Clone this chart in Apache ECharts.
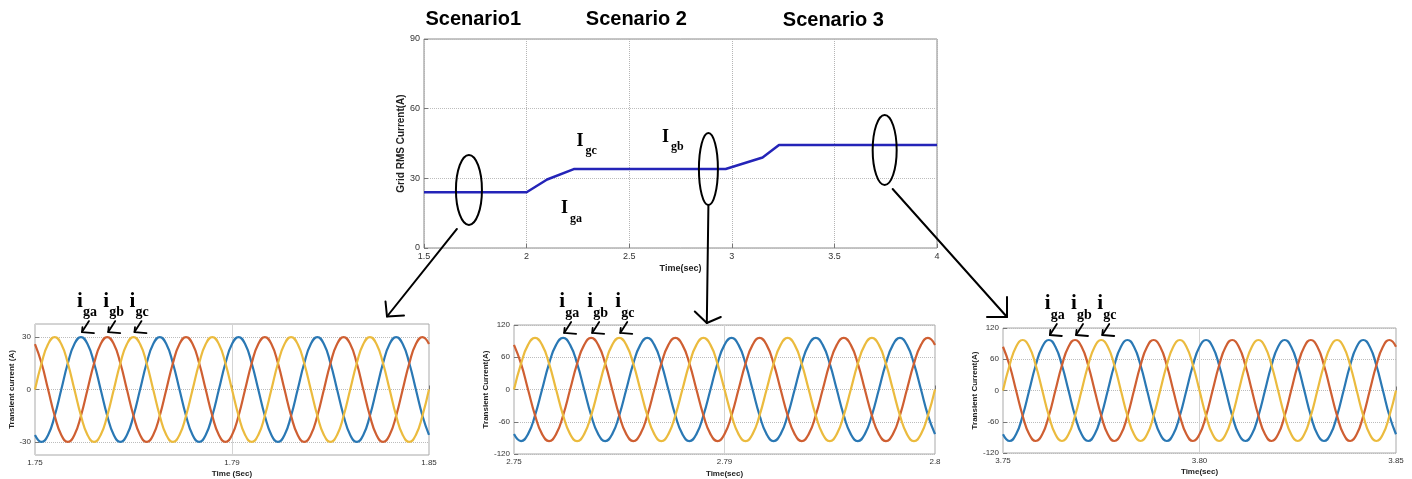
<!DOCTYPE html>
<html>
<head>
<meta charset="utf-8">
<script src="https://cdn.jsdelivr.net/npm/echarts@6/dist/echarts.min.js"></script>
<style>
  html, body { margin: 0; padding: 0; background: #fff; }
  #main { width: 1412px; height: 479px; }
</style>
</head>
<body>
<div id="main"></div>
<script>
// ---- Grid RMS current across the three scenarios ----
const rmsTime  = [1.5, 2.0, 2.1, 2.23, 2.97, 3.15, 3.23, 4.0];
const rmsValue = [24, 24, 29.5, 34, 34, 39, 44.4, 44.4];

// ---- Scenario 1 transient phase currents (1.75 - 1.85 s) ----
const t1 = [1.75,1.75167,1.75333,1.755,1.75667,1.75833,1.76,1.76167,1.76333,1.765,1.76667,1.76833,
  1.77,1.77167,1.77333,1.775,1.77667,1.77833,1.78,1.78167,1.78333,1.785,1.78667,1.78833,
  1.79,1.79167,1.79333,1.795,1.79667,1.79833,1.8,1.80167,1.80333,1.805,1.80667,1.80833,
  1.81,1.81167,1.81333,1.815,1.81667,1.81833,1.82,1.82167,1.82333,1.825,1.82667,1.82833,
  1.83,1.83167,1.83333,1.835,1.83667,1.83833,1.84,1.84167,1.84333,1.845,1.84667,1.84833,1.85];
const ia1 = [-26,-30,-26,-15,0,15,26,30,26,15,0,-15, -26,-30,-26,-15,0,15,26,30,26,15,0,-15,
  -26,-30,-26,-15,0,15,26,30,26,15,0,-15, -26,-30,-26,-15,0,15,26,30,26,15,0,-15,
  -26,-30,-26,-15,0,15,26,30,26,15,0,-15, -26];
const ib1 = [26,15,0,-15,-26,-30,-26,-15,0,15,26,30, 26,15,0,-15,-26,-30,-26,-15,0,15,26,30,
  26,15,0,-15,-26,-30,-26,-15,0,15,26,30, 26,15,0,-15,-26,-30,-26,-15,0,15,26,30,
  26,15,0,-15,-26,-30,-26,-15,0,15,26,30, 26];
const ic1 = [0,15,26,30,26,15,0,-15,-26,-30,-26,-15, 0,15,26,30,26,15,0,-15,-26,-30,-26,-15,
  0,15,26,30,26,15,0,-15,-26,-30,-26,-15, 0,15,26,30,26,15,0,-15,-26,-30,-26,-15,
  0,15,26,30,26,15,0,-15,-26,-30,-26,-15, 0];

// ---- Scenario 2 transient phase currents (2.75 - 2.85 s) ----
const t2 = [2.75,2.75167,2.75333,2.755,2.75667,2.75833,2.76,2.76167,2.76333,2.765,2.76667,2.76833,
  2.77,2.77167,2.77333,2.775,2.77667,2.77833,2.78,2.78167,2.78333,2.785,2.78667,2.78833,
  2.79,2.79167,2.79333,2.795,2.79667,2.79833,2.8,2.80167,2.80333,2.805,2.80667,2.80833,
  2.81,2.81167,2.81333,2.815,2.81667,2.81833,2.82,2.82167,2.82333,2.825,2.82667,2.82833,
  2.83,2.83167,2.83333,2.835,2.83667,2.83833,2.84,2.84167,2.84333,2.845,2.84667,2.84833,2.85];
const ia2 = [-83,-96,-83,-48,0,48,83,96,83,48,0,-48, -83,-96,-83,-48,0,48,83,96,83,48,0,-48,
  -83,-96,-83,-48,0,48,83,96,83,48,0,-48, -83,-96,-83,-48,0,48,83,96,83,48,0,-48,
  -83,-96,-83,-48,0,48,83,96,83,48,0,-48, -83];
const ib2 = [83,48,0,-48,-83,-96,-83,-48,0,48,83,96, 83,48,0,-48,-83,-96,-83,-48,0,48,83,96,
  83,48,0,-48,-83,-96,-83,-48,0,48,83,96, 83,48,0,-48,-83,-96,-83,-48,0,48,83,96,
  83,48,0,-48,-83,-96,-83,-48,0,48,83,96, 83];
const ic2 = [0,48,83,96,83,48,0,-48,-83,-96,-83,-48, 0,48,83,96,83,48,0,-48,-83,-96,-83,-48,
  0,48,83,96,83,48,0,-48,-83,-96,-83,-48, 0,48,83,96,83,48,0,-48,-83,-96,-83,-48,
  0,48,83,96,83,48,0,-48,-83,-96,-83,-48, 0];

// ---- Scenario 3 transient phase currents (3.75 - 3.85 s) ----
const t3 = [3.75,3.75167,3.75333,3.755,3.75667,3.75833,3.76,3.76167,3.76333,3.765,3.76667,3.76833,
  3.77,3.77167,3.77333,3.775,3.77667,3.77833,3.78,3.78167,3.78333,3.785,3.78667,3.78833,
  3.79,3.79167,3.79333,3.795,3.79667,3.79833,3.8,3.80167,3.80333,3.805,3.80667,3.80833,
  3.81,3.81167,3.81333,3.815,3.81667,3.81833,3.82,3.82167,3.82333,3.825,3.82667,3.82833,
  3.83,3.83167,3.83333,3.835,3.83667,3.83833,3.84,3.84167,3.84333,3.845,3.84667,3.84833,3.85];
const ia3 = [-84,-97,-84,-48.5,0,48.5,84,97,84,48.5,0,-48.5, -84,-97,-84,-48.5,0,48.5,84,97,84,48.5,0,-48.5,
  -84,-97,-84,-48.5,0,48.5,84,97,84,48.5,0,-48.5, -84,-97,-84,-48.5,0,48.5,84,97,84,48.5,0,-48.5,
  -84,-97,-84,-48.5,0,48.5,84,97,84,48.5,0,-48.5, -84];
const ib3 = [84,48.5,0,-48.5,-84,-97,-84,-48.5,0,48.5,84,97, 84,48.5,0,-48.5,-84,-97,-84,-48.5,0,48.5,84,97,
  84,48.5,0,-48.5,-84,-97,-84,-48.5,0,48.5,84,97, 84,48.5,0,-48.5,-84,-97,-84,-48.5,0,48.5,84,97,
  84,48.5,0,-48.5,-84,-97,-84,-48.5,0,48.5,84,97, 84];
const ic3 = [0,48.5,84,97,84,48.5,0,-48.5,-84,-97,-84,-48.5, 0,48.5,84,97,84,48.5,0,-48.5,-84,-97,-84,-48.5,
  0,48.5,84,97,84,48.5,0,-48.5,-84,-97,-84,-48.5, 0,48.5,84,97,84,48.5,0,-48.5,-84,-97,-84,-48.5,
  0,48.5,84,97,84,48.5,0,-48.5,-84,-97,-84,-48.5, 0];

// ---- Tick labels and annotation text ----
const xTicks1 = ['1.75', '1.79', '1.85'];
const xTicks2 = ['2.75', '2.79', '2.8'];
const xTicks3 = ['3.75', '3.80', '3.85'];
const yTicks1 = [-30, 0, 30];
const scenarioNames = ['Scenario1', 'Scenario 2', 'Scenario 3'];
const scenarioAt = [1.74, 2.535, 3.495];           // time under each heading
const rmsTags = [['gc', 2.2436, 46.1], ['gb', 2.66, 47.8], ['ga', 2.1676, 17.0]];
const phaseSubs = ['ga', 'gb', 'gc'];
const firstPeakIdx = [7, 11, 15];                   // sample index of first peak of a, b, c
const circled = [[1.719, 25], [2.886, 34], [3.745, 42.2]];

const SANS = '"Liberation Sans", Arial, Helvetica, sans-serif';
const SERIF = '"Liberation Serif", "Times New Roman", serif';
const PHASE_COLORS = ['#2A78B4', '#CF5F32', '#EBBB3E'];

const chart = echarts.init(document.getElementById('main'), null, { renderer: 'canvas' });

const gridBoxes = [
  { left: 424, top: 39, width: 513, height: 209, borderColor: '#8a8a8a' },
  { left: 35, top: 324, width: 394, height: 133, borderColor: '#a8a8a8' },
  { left: 514, top: 325, width: 421, height: 134, borderColor: '#a8a8a8' },
  { left: 1003, top: 328, width: 393, height: 125, borderColor: '#a8a8a8' }
];

function xAxisFor(i, min, max, interval, name, nameGap, labels, fs, nameFs) {
  return {
    type: 'value', gridIndex: i, min, max, interval,
    name, nameLocation: 'middle', nameGap,
    nameTextStyle: { fontFamily: SANS, fontWeight: 'bold', fontSize: nameFs, color: '#222' },
    axisLine: { show: false },
    axisTick: { show: true, inside: true, length: 4, lineStyle: { color: '#777' } },
    axisLabel: {
      show: true, margin: 4, fontFamily: SANS, fontSize: fs, color: '#333',
      showMinLabel: true, showMaxLabel: true,
      formatter: labels ? (v => labels[Math.round((v - min) / interval)]) : undefined
    },
    splitLine: { show: true, lineStyle: { color: i === 0 ? '#b5b5b5' : '#d4d4d4', type: i === 0 ? 'dotted' : 'solid', width: 1 } }
  };
}

function yAxisFor(i, min, max, interval, name, nameGap, fs, nameFs, custom) {
  const ax = {
    type: 'value', gridIndex: i, min, max, interval,
    name, nameLocation: 'middle', nameGap,
    nameTextStyle: { fontFamily: SANS, fontWeight: 'bold', fontSize: nameFs, color: '#222' },
    axisLine: { show: false },
    axisTick: { show: true, inside: true, length: 4, lineStyle: { color: '#777' } },
    axisLabel: { show: true, margin: 4, fontFamily: SANS, fontSize: fs, color: '#333', showMinLabel: true, showMaxLabel: true },
    splitLine: { show: true, lineStyle: { color: '#bdbdbd', type: 'dotted', width: 1 } }
  };
  if (custom) {
    ax.axisLabel.customValues = custom;
    ax.axisTick.customValues = custom;
  }
  return ax;
}

function pairs(xs, ys) { return xs.map((x, k) => [x, ys[k]]); }

function phaseSeries(i, ts, a, b, c) {
  return [a, b, c].map((ys, p) => ({
    type: 'line', xAxisIndex: i, yAxisIndex: i, data: pairs(ts, ys),
    smooth: 0.5, showSymbol: false, silent: true, clip: true,
    lineStyle: { color: PHASE_COLORS[p], width: 2.2 }
  }));
}

chart.setOption({
  animation: false,
  backgroundColor: '#ffffff',
  grid: gridBoxes.map(g => ({
    left: g.left, top: g.top, width: g.width, height: g.height,
    show: true, borderColor: g.borderColor, borderWidth: 1, backgroundColor: 'transparent', containLabel: false
  })),
  xAxis: [
    xAxisFor(0, 1.5, 4, 0.5, 'Time(sec)', 16, null, 9, 9),
    xAxisFor(1, 1.75, 1.85, 0.05, 'Time (Sec)', 15, xTicks1, 8, 8),
    xAxisFor(2, 2.75, 2.85, 0.05, 'Time(sec)', 16, xTicks2, 8, 8),
    xAxisFor(3, 3.75, 3.85, 0.05, 'Time(sec)', 15, xTicks3, 8, 8)
  ],
  yAxis: [
    yAxisFor(0, 0, 90, 30, 'Grid RMS Current(A)', 18, 9, 10),
    yAxisFor(1, -37.5, 37.5, 7.5, 'Transient current (A)', 19, 8, 8, yTicks1),
    yAxisFor(2, -120, 120, 60, 'Transient Current(A)', 24, 8, 8),
    yAxisFor(3, -120, 120, 60, 'Transient Current(A)', 23, 8, 8)
  ],
  series: [
    {
      type: 'line', xAxisIndex: 0, yAxisIndex: 0, data: pairs(rmsTime, rmsValue),
      showSymbol: false, silent: true, lineStyle: { color: '#2424b8', width: 2.5 }
    },
    ...phaseSeries(1, t1, ia1, ib1, ic1),
    ...phaseSeries(2, t2, ia2, ib2, ic2),
    ...phaseSeries(3, t3, ia3, ib3, ic3)
  ]
});

// ---- Annotations placed from the axes' own scales ----
const toPx = (g, x, y) => chart.convertToPixel({ gridIndex: g }, [x, y]);
const els = [];

function poly(points, w) {
  els.push({ type: 'polyline', z: 100, shape: { points }, style: { stroke: '#000', lineWidth: w || 2, fill: null, lineCap: 'round', lineJoin: 'round' } });
}
function txt(x, y, text, font, align, valign) {
  els.push({ type: 'text', z: 101, x, y, style: { text, font, fill: '#000', align: align || 'left', verticalAlign: valign || 'middle' } });
}

// Scenario headings
scenarioNames.forEach((s, k) => {
  const p = toPx(0, scenarioAt[k], 90);
  txt(p[0], p[1] - 20 + (k === 2 ? 1 : 0), s, 'bold 20px ' + SANS, 'center', 'middle');
});

// Phase tags on the RMS plot
rmsTags.forEach(([sub, t, v]) => {
  const p = toPx(0, t, v);
  txt(p[0], p[1], 'I', 'bold 18px ' + SERIF, 'left', 'middle');
  txt(p[0] + 9, p[1] + 10, sub, 'bold 12px ' + SERIF, 'left', 'middle');
});

// Circled regions and the arrows leading to each zoomed panel
const radii = [[13, 35], [9.5, 36], [12, 35]];
const centers = circled.map(([t, v]) => toPx(0, t, v));
centers.forEach((c, k) => {
  els.push({ type: 'ellipse', z: 100, shape: { cx: c[0], cy: c[1], rx: radii[k][0], ry: radii[k][1] }, style: { stroke: '#000', lineWidth: 2, fill: null } });
});

// arrow to scenario 1 panel
{
  const corner = toPx(1, 1.85, 37.5);
  const tip = [corner[0] - 42, corner[1] - 7.5];
  const start = [centers[0][0] - 12, centers[0][1] + 39];
  poly([start, tip]);
  poly([[tip[0] - 1.5, tip[1] - 15], tip, [tip[0] + 17, tip[1] - 1]]);
}
// arrow to scenario 2 panel
{
  const top = toPx(2, 2.7958, 120);
  const tip = [top[0], top[1] - 2];
  const start = [centers[1][0], centers[1][1] + 36];
  poly([start, tip]);
  poly([[tip[0] - 12, tip[1] - 11.5], tip, [tip[0] + 14, tip[1] - 6]]);
}
// arrow to scenario 3 panel
{
  const corner = toPx(3, 3.75, 120);
  const tip = [corner[0] + 4, corner[1] - 11];
  const start = [centers[2][0] + 8, centers[2][1] + 39];
  poly([start, tip]);
  poly([[tip[0], tip[1] - 20], tip, [tip[0] - 20, tip[1]]]);
}

// Phase labels pointing at the first peak of each phase
const panels = [[1, t1, [ia1, ib1, ic1]], [2, t2, [ia2, ib2, ic2]], [3, t3, [ia3, ib3, ic3]]];
panels.forEach(([g, ts, phases]) => {
  phases.forEach((ys, p) => {
    const k = firstPeakIdx[p];
    const pk = toPx(g, ts[k], ys[k]);
    const tip = [pk[0] + 1, pk[1] - 5];
    poly([[tip[0] + 7, tip[1] - 11], tip], 1.8);
    poly([[tip[0] + 0.5, tip[1] - 5], tip, [tip[0] + 12, tip[1] + 1]], 1.8);
    txt(pk[0] - 4, pk[1] - 36, 'i', 'bold 21px ' + SERIF, 'left', 'middle');
    txt(pk[0] + 2, pk[1] - 25, phaseSubs[p], 'bold 14px ' + SERIF, 'left', 'middle');
  });
});

chart.setOption({ graphic: els });
</script>
</body>
</html>
